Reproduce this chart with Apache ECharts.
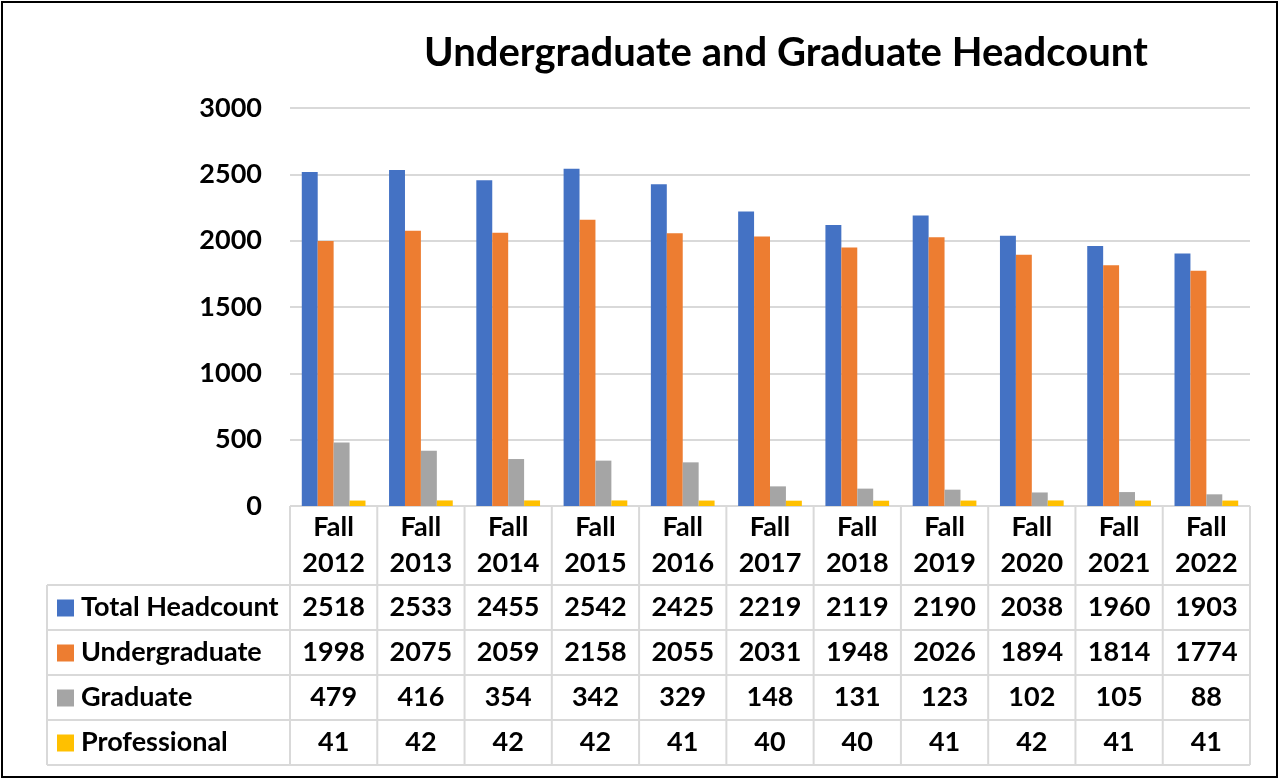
<!DOCTYPE html>
<html>
<head>
<meta charset="utf-8">
<script src="https://cdn.jsdelivr.net/npm/echarts@6/dist/echarts.min.js"></script>
<style>
  html, body { margin: 0; padding: 0; background: #fff; }
  #chart { width: 1279px; height: 780px; }
</style>
</head>
<body>
<div id="chart"></div>
<script>
const categories = ['Fall 2012', 'Fall 2013', 'Fall 2014', 'Fall 2015', 'Fall 2016', 'Fall 2017', 'Fall 2018', 'Fall 2019', 'Fall 2020', 'Fall 2021', 'Fall 2022'];
const totalHeadcount = [2518, 2533, 2455, 2542, 2425, 2219, 2119, 2190, 2038, 1960, 1903];
const undergraduate = [1998, 2075, 2059, 2158, 2055, 2031, 1948, 2026, 1894, 1814, 1774];
const graduate = [479, 416, 354, 342, 329, 148, 131, 123, 102, 105, 88];
const professional = [41, 42, 42, 42, 41, 40, 40, 41, 42, 41, 41];
const yTicks = [0, 500, 1000, 1500, 2000, 2500, 3000];

const seriesList = [
    { name: 'Total Headcount', data: totalHeadcount, color: '#4472C4' },
    { name: 'Undergraduate', data: undergraduate, color: '#ED7D31' },
    { name: 'Graduate', data: graduate, color: '#A5A5A5' },
    { name: 'Professional', data: professional, color: '#FFC000' }
];

const FONT = 'Lato';
const gridLeft = 290, gridRight = 1250, gridTop = 108, gridBottom = 506;
const tableLeft = 47;
const rowLines = [585, 630, 675, 720, 765];
const lineColor = '#d9d9d9';

const myChart = echarts.init(document.getElementById('chart'));

const option = {
    animation: false,
    backgroundColor: '#fff',
    title: {
        text: 'Undergraduate and Graduate Headcount',
        left: 781,
        textAlign: 'center',
        top: 28,
        textStyle: { fontFamily: FONT, fontWeight: 'bold', fontSize: 40, color: '#000' }
    },
    grid: {
        left: gridLeft,
        right: 1279 - gridRight,
        top: gridTop,
        bottom: 780 - gridBottom
    },
    xAxis: {
        type: 'category',
        data: categories,
        axisLine: { show: false },
        axisTick: { show: false },
        axisLabel: { show: false }
    },
    yAxis: {
        type: 'value',
        min: yTicks[0],
        max: yTicks[yTicks.length - 1],
        interval: 500,
        axisLine: { show: false },
        axisTick: { show: false },
        axisLabel: {
            margin: 28,
            formatter: v => String(v),
            fontFamily: FONT, fontWeight: 'bold', fontSize: 27, color: '#000'
        },
        splitLine: { lineStyle: { color: lineColor, width: 2 } }
    },
    series: seriesList.map(s => ({
        name: s.name,
        type: 'bar',
        data: s.data,
        barGap: '0%',
        barCategoryGap: '27%',
        itemStyle: { color: s.color }
    }))
};
myChart.setOption(option);

// data table under the plot
const graphics = [];
const colW = (gridRight - gridLeft) / categories.length;
const line = (x1, y1, x2, y2) => ({
    type: 'line',
    shape: { x1, y1, x2, y2 },
    style: { stroke: lineColor, lineWidth: 2 },
    silent: true
});
graphics.push(line(gridLeft, gridBottom, gridRight, gridBottom));
rowLines.forEach(y => graphics.push(line(tableLeft, y, gridRight, y)));
graphics.push(line(tableLeft, rowLines[0], tableLeft, rowLines[rowLines.length - 1]));
for (let k = 0; k <= categories.length; k++) {
    const x = gridLeft + k * colW;
    graphics.push(line(x, gridBottom, x, rowLines[rowLines.length - 1]));
}
const txtStyle = { fontFamily: FONT, fontWeight: 'bold', fontSize: 27, fill: '#000' };
categories.forEach((c, i) => {
    const cx = myChart.convertToPixel({ xAxisIndex: 0 }, i);
    const parts = c.split(' ');
    graphics.push({ type: 'text', x: cx, y: 527, style: Object.assign({ text: parts[0], align: 'center', verticalAlign: 'middle' }, txtStyle) });
    graphics.push({ type: 'text', x: cx, y: 563, style: Object.assign({ text: parts[1], align: 'center', verticalAlign: 'middle' }, txtStyle) });
    seriesList.forEach((s, r) => {
        const cy = (rowLines[r] + rowLines[r + 1]) / 2;
        graphics.push({ type: 'text', x: cx, y: cy, style: Object.assign({ text: String(s.data[i]), align: 'center', verticalAlign: 'middle' }, txtStyle) });
    });
});
seriesList.forEach((s, r) => {
    const cy = (rowLines[r] + rowLines[r + 1]) / 2;
    graphics.push({ type: 'rect', shape: { x: 57, y: cy - 8, width: 17, height: 17 }, style: { fill: s.color } });
    graphics.push({ type: 'text', x: 81, y: cy, style: Object.assign({ text: s.name, align: 'left', verticalAlign: 'middle' }, txtStyle) });
});
// outer border
graphics.push({ type: 'rect', shape: { x: 2, y: 2, width: 1275, height: 775 }, style: { fill: null, stroke: '#000', lineWidth: 2 }, silent: true });

myChart.setOption({ graphic: graphics });
</script>
</body>
</html>
